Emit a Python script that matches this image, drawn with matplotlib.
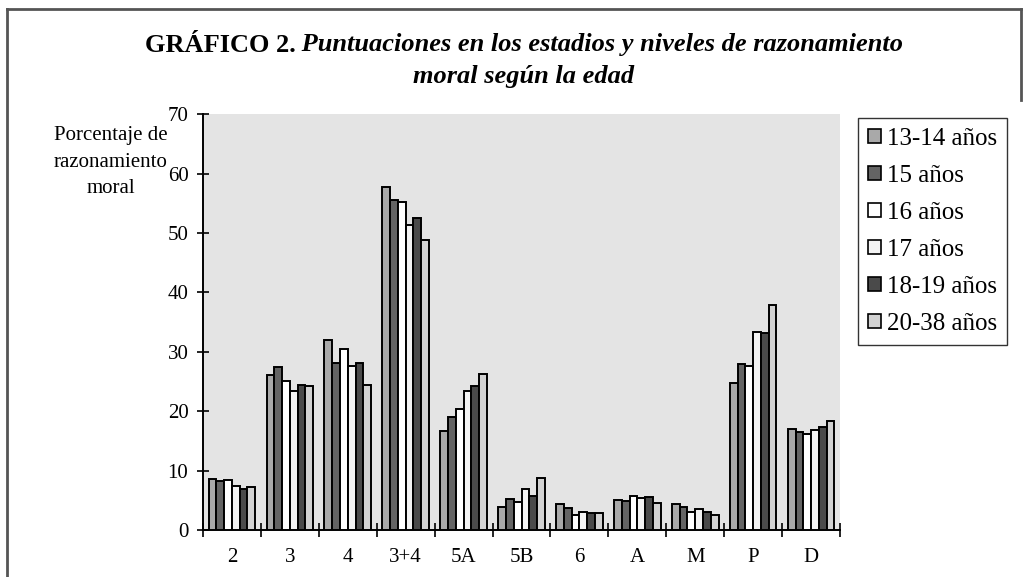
import matplotlib
matplotlib.use("Agg")
import matplotlib.pyplot as plt
from matplotlib.patches import Patch
from matplotlib.lines import Line2D
import numpy as np

categories = ["2", "3", "4", "3+4", "5A", "5B", "6", "A", "M", "P", "D"]
series_names = ["13-14 años", "15 años", "16 años", "17 años", "18-19 años", "20-38 años"]
v_13_14 = [8.6, 26.1, 32.0, 57.8, 16.6, 3.8, 4.4, 5.0, 4.3, 24.7, 17.0]
v_15 = [8.3, 27.5, 28.1, 55.5, 19.1, 5.2, 3.7, 4.8, 3.8, 28.0, 16.5]
v_16 = [8.5, 25.1, 30.4, 55.2, 20.4, 4.7, 2.6, 5.8, 3.1, 27.7, 16.1]
v_17 = [7.4, 23.4, 27.7, 51.3, 23.4, 6.9, 3.0, 5.4, 3.5, 33.3, 16.9]
v_18_19 = [6.9, 24.5, 28.1, 52.6, 24.3, 5.8, 2.9, 5.6, 3.1, 33.2, 17.3]
v_20_38 = [7.3, 24.2, 24.5, 48.8, 26.3, 8.8, 2.8, 4.6, 2.5, 37.9, 18.3]
series = [v_13_14, v_15, v_16, v_17, v_18_19, v_20_38]
colors = ["#a9a9a9", "#646464", "#ffffff", "#f3f3f3", "#4a4a4a", "#d2d2d2"]
yticks = [0, 10, 20, 30, 40, 50, 60, 70]

serif = ["Liberation Serif", "DejaVu Serif"]
plt.rcParams["font.family"] = serif

W, H = 1023, 577
fig = plt.figure(figsize=(W / 100, H / 100), dpi=100)
fig.patch.set_facecolor("white")

ax = fig.add_axes([203 / W, 1 - 530 / H, (840 - 203) / W, (530 - 114.3) / H])
ax.set_facecolor("#e4e4e4")

x = np.arange(len(categories))
bw = 0.134
for j, (vals, c) in enumerate(zip(series, colors)):
    ax.bar(x + (j - 2.5) * bw, vals, width=bw, color=c, edgecolor="black",
           linewidth=1.4, zorder=3)

ax.set_xlim(-0.5, len(categories) - 0.5)
ax.set_ylim(0, 70)
ax.set_yticks(yticks)
ax.set_yticklabels([str(t) for t in yticks], fontsize=15)
ax.set_xticks(x)
ax.set_xticklabels(categories, fontsize=15)
ax.set_xticks(np.arange(-0.5, len(categories), 1.0), minor=True)
ax.tick_params(axis="x", which="major", length=0, pad=13)
ax.tick_params(axis="x", which="minor", direction="inout", length=10, width=1.2)
ax.tick_params(axis="y", direction="inout", length=9, width=1.2, pad=6)
for s in ["top", "right"]:
    ax.spines[s].set_visible(False)
for s in ["left", "bottom"]:
    ax.spines[s].set_linewidth(1.4)

# y label
fig.text(111 / W, 1 - 162 / H, "Porcentaje de\nrazonamiento\nmoral", ha="center",
         va="center", fontsize=15, linespacing=1.55)

# legend
handles = [Patch(facecolor=c, edgecolor="black", linewidth=1.2) for c in colors]
leg = fig.legend(handles, series_names, loc="upper left",
                 bbox_to_anchor=(858 / W, 1 - 118 / H), frameon=True, fontsize=18,
                 handlelength=0.5, handleheight=0.5, handletextpad=0.25,
                 labelspacing=0.6, borderpad=0.4, borderaxespad=0,
                 fancybox=False)
leg.get_frame().set_edgecolor("black")
leg.get_frame().set_linewidth(1.0)

# title (mixed bold / bold italic)
fig.canvas.draw()
r = fig.canvas.get_renderer()
fs_title = 19
t1a = fig.text(0, 1 - 45 / H, "GRÁFICO 2.", fontsize=fs_title, fontweight="bold",
               va="center", ha="left")
t1b = fig.text(0, 1 - 45 / H, " Puntuaciones en los estadios y niveles de razonamiento",
               fontsize=fs_title, fontweight="bold", style="italic", va="center", ha="left")
wa = t1a.get_window_extent(r).width
wb = t1b.get_window_extent(r).width
start = (524 - (wa + wb) / 2)
t1a.set_x(start / W)
t1b.set_x((start + wa) / W)
fig.text(524 / W, 1 - 77 / H, "moral según la edad", fontsize=fs_title, fontweight="bold",
         style="italic", va="center", ha="center")

# outer frame
fc = "#555555"
fig.add_artist(Line2D([7 / W, 7 / W], [0, 1 - 9 / H], transform=fig.transFigure, color=fc, lw=2))
fig.add_artist(Line2D([7 / W, 1021 / W], [1 - 9 / H, 1 - 9 / H], transform=fig.transFigure, color=fc, lw=2))
fig.add_artist(Line2D([1021 / W, 1021 / W], [1 - 9 / H, 1 - 100 / H], transform=fig.transFigure, color=fc, lw=2))

fig.savefig("out.png", dpi=100)
